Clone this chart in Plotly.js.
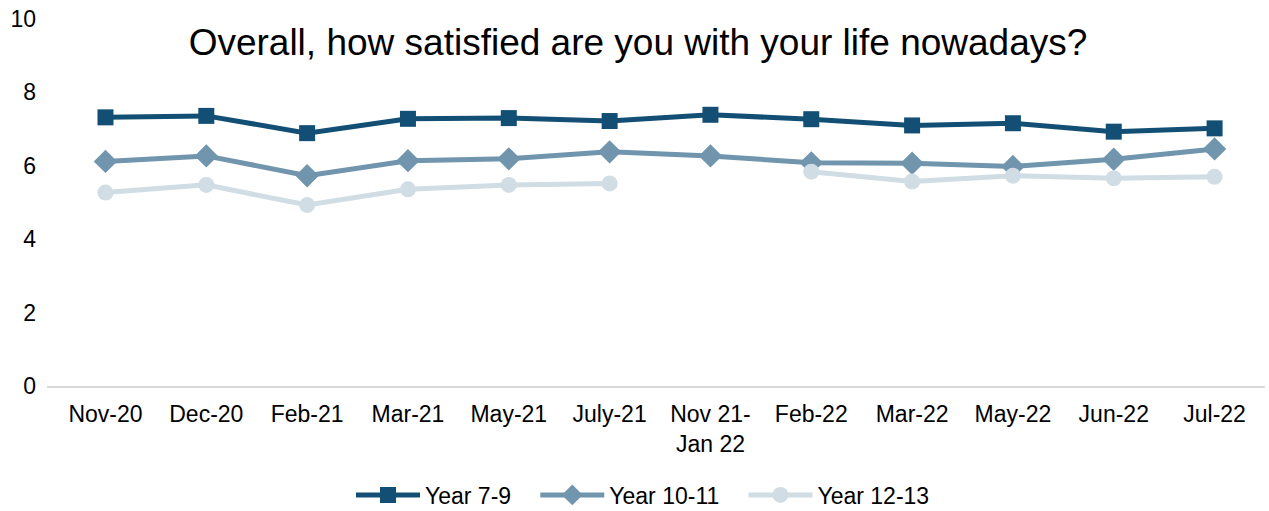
<!DOCTYPE html>
<html>
<head>
<meta charset="utf-8">
<script src="https://cdn.plot.ly/plotly-3.0.1.min.js"></script>
<style>html,body{margin:0;padding:0;background:#fff;}#chart{width:1269px;height:511px;}</style>
</head>
<body>
<div id="chart"></div>
<script>
const categories = ["Nov-20","Dec-20","Feb-21","Mar-21","May-21","July-21","Nov 21-<br>Jan 22","Feb-22","Mar-22","May-22","Jun-22","Jul-22"];
const year79 = [7.32,7.36,6.89,7.28,7.30,7.22,7.39,7.27,7.10,7.16,6.93,7.02];
const year1011 = [6.12,6.27,5.73,6.14,6.19,6.38,6.27,6.08,6.07,5.98,6.18,6.46];
const year1213 = [5.27,5.48,4.93,5.36,5.48,5.52,null,5.84,5.57,5.73,5.66,5.70];
const seriesNames = ["Year 7-9","Year 10-11","Year 12-13"];

const pad = '\u00a0\u00a0\u00a0';
const xIdx = categories.map((c,i)=>i);
const traces = [
  {x:xIdx, y:year79, name:seriesNames[0] + pad, type:'scatter', mode:'lines+markers',
   line:{color:'#134F74', width:5}, marker:{symbol:'square', size:16, color:'#134F74'}},
  {x:xIdx, y:year1011, name:seriesNames[1] + pad, type:'scatter', mode:'lines+markers',
   line:{color:'#7095AD', width:5}, marker:{symbol:'diamond', size:18, color:'#7095AD'}},
  {x:xIdx, y:year1213, name:seriesNames[2], type:'scatter', mode:'lines+markers', connectgaps:false,
   line:{color:'#D0DDE5', width:5}, marker:{symbol:'circle', size:16, color:'#D0DDE5'}}
];
const layout = {
  width:1269, height:511,
  margin:{l:47, r:4, t:19, b:125},
  paper_bgcolor:'#fff', plot_bgcolor:'#fff',
  font:{family:'Liberation Sans, Arial, sans-serif', color:'#000', size:23},
  title:{text:'Overall, how satisfied are you with your life nowadays?', font:{size:37, color:'#000'},
         x:638/1269, xanchor:'center', y:1-42/511, yanchor:'middle', yref:'container'},
  xaxis:{range:[-0.58,11.5], tickmode:'array', tickvals:xIdx, ticktext:categories,
         showgrid:false, zeroline:false, showline:true, linecolor:'#D9D9D9', linewidth:2,
         ticks:'', tickfont:{size:23}, ticklabelstandoff:6},
  yaxis:{range:[0,10], tickvals:[0,2,4,6,8,10], showgrid:false, zeroline:false, showline:false,
         ticks:'', tickfont:{size:23}, ticklabelstandoff:10},
  legend:{orientation:'h', x:643/1269, xanchor:'center', xref:'container', y:1-495/511, yanchor:'middle', yref:'container',
          font:{size:23}, itemwidth:64},
  showlegend:true
};
Plotly.newPlot('chart', traces, layout, {displayModeBar:false, staticPlot:true});
</script>
</body>
</html>
